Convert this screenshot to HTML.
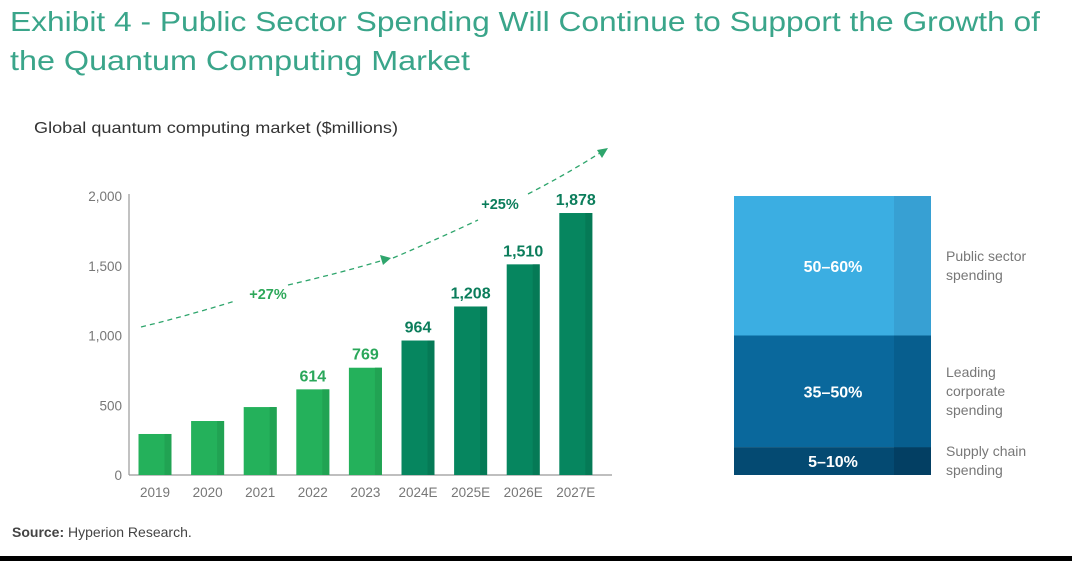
<!DOCTYPE html>
<html><head><meta charset="utf-8"><style>
body{margin:0;width:1072px;height:561px;overflow:hidden;background:#fff;font-family:"Liberation Sans",sans-serif}
</style></head><body>
<svg id="s" width="1072" height="561" xmlns="http://www.w3.org/2000/svg">
<text x="10" y="31" font-size="28" fill="#3aa58a" textLength="1030" lengthAdjust="spacingAndGlyphs">Exhibit 4 - Public Sector Spending Will Continue to Support the Growth of</text>
<text x="10" y="70" font-size="28" fill="#3aa58a" textLength="460" lengthAdjust="spacingAndGlyphs">the Quantum Computing Market</text>
<text x="34" y="133" font-size="16" fill="#333" textLength="364" lengthAdjust="spacingAndGlyphs">Global quantum computing market ($millions)</text>
<text x="12" y="537" font-size="14" fill="#444"><tspan font-weight="bold">Source:</tspan> Hyperion Research.</text>
<rect x="0" y="556" width="1072" height="5" fill="#000"/>
<g id="bars"></g>
<g id="stack"></g>
</svg>
<script>
const categories=["2019","2020","2021","2022","2023","2024E","2025E","2026E","2027E"];
const values=[294,387,487,614,769,964,1208,1510,1878];
const valueLabels=["","","","614","769","964","1,208","1,510","1,878"];
const estimated=[false,false,false,false,false,true,true,true,true];
const yTicks=[0,500,1000,1500,2000];
const yTickLabels=["0","500","1,000","1,500","2,000"];
const segLabels=["5–10%","35–50%","50–60%"];
const segShares=[0.10,0.40,0.50];
const segNames=[["Supply chain","spending"],["Leading","corporate","spending"],["Public sector","spending"]];

const NS="http://www.w3.org/2000/svg";
function mk(t,a,p,txt){const e=document.createElementNS(NS,t);for(const k in a)e.setAttribute(k,a[k]);if(txt!==undefined)e.textContent=txt;p.appendChild(e);return e;}
const g=document.getElementById('bars');
const y0=475,yTop=196,ymax=2000;
const y=v=>y0-(v/ymax)*(y0-yTop);
const x=i=>155+i*52.6;
const bw=33;
yTicks.forEach((t,i)=>{
  const e=mk('text',{x:122,y:y(t)+5,'font-size':13.5,fill:'#777','text-anchor':'end'},g,yTickLabels[i]);
  
  
});
const ax=mk('line',{x1:129,y1:yTop-2,x2:129,y2:y0,stroke:'#999','stroke-width':1.2},g);


const bx=mk('line',{x1:129,y1:y0,x2:612,y2:y0,stroke:'#999','stroke-width':1.2},g);


categories.forEach((c,i)=>{
  const est=estimated[i];
  const col=est?'#06865f':'#24b15b', side=est?'#057a56':'#21a353';
  const r=mk('rect',{x:x(i)-bw/2,y:y(values[i]),width:bw,height:y0-y(values[i]),fill:col},g);
  
  
  const s=mk('rect',{x:x(i)+bw/2-7,y:y(values[i]),width:7,height:y0-y(values[i]),fill:side},g);
  
  
  const t=mk('text',{x:x(i),y:497,'font-size':13.5,fill:'#777','text-anchor':'middle'},g,c);
  
  
  if(valueLabels[i]){
    const v=mk('text',{x:x(i),y:y(values[i])-8,'font-size':16,'font-weight':'bold',fill:est?'#0b7d5b':'#2aa75a','text-anchor':'middle'},g,valueLabels[i]);
    
    
  }
});
// growth trend arrows (gaps where CAGR labels sit)
const dash={fill:'none',stroke:'#2ea56c','stroke-width':1.3,'stroke-dasharray':'5 4'};
[['M141 327 Q190 315 235 301','trend-line-2019-2023'],['M288 285 Q340 273 384 260','trend-line-2019-2023'],
 ['M393 258 Q440 238 478 220','trend-line-2024-2027'],['M528 194 Q565 175 600 153','trend-line-2024-2027']].forEach(p=>{
  const d=mk('path',Object.assign({d:p[0]},dash),g);
  
  
});
const a1=mk('polygon',{points:'391,258 380,255 383,265',fill:'#2ea56c'},g);


const a2=mk('polygon',{points:'608,148 597,150 602,158',fill:'#2ea56c'},g);


const c1=mk('text',{x:268,y:299,'font-size':14.5,'font-weight':'bold',fill:'#2ea85a','text-anchor':'middle'},g,'+27%');


const c2=mk('text',{x:500,y:209,'font-size':14.5,'font-weight':'bold',fill:'#0b7d5b','text-anchor':'middle'},g,'+25%');



// stacked bar
const sg=document.getElementById('stack');
const sx=734,sw=197,sTop=196,sBot=475;
const cols=['#044a72','#0a689c','#3baee2'],sides=['#033f63','#075e8e','#37a0d3'];
let acc=0;const H=sBot-sTop;
segShares.forEach((p,i)=>{
  const yb=sBot-acc*H, yt=sBot-(acc+p)*H; acc+=p;
  const r=mk('rect',{x:sx,y:yt,width:sw,height:yb-yt,fill:cols[i]},sg);
  
  
  const s=mk('rect',{x:sx+160,y:yt,width:sw-160,height:yb-yt,fill:sides[i]},sg);
  
  
  const t=mk('text',{x:833,y:(yt+yb)/2+6,'font-size':16,'font-weight':'bold',fill:'#fff','text-anchor':'middle'},sg,segLabels[i]);
  
  
  const names=segNames[i];
  const ly=[[456],[377],[261]][i][0];
  names.forEach((n,j)=>{
    const e=mk('text',{x:946,y:ly+j*19,'font-size':14,fill:'#777'},sg,n);
    
    
  });
});
</script>
</body></html>
